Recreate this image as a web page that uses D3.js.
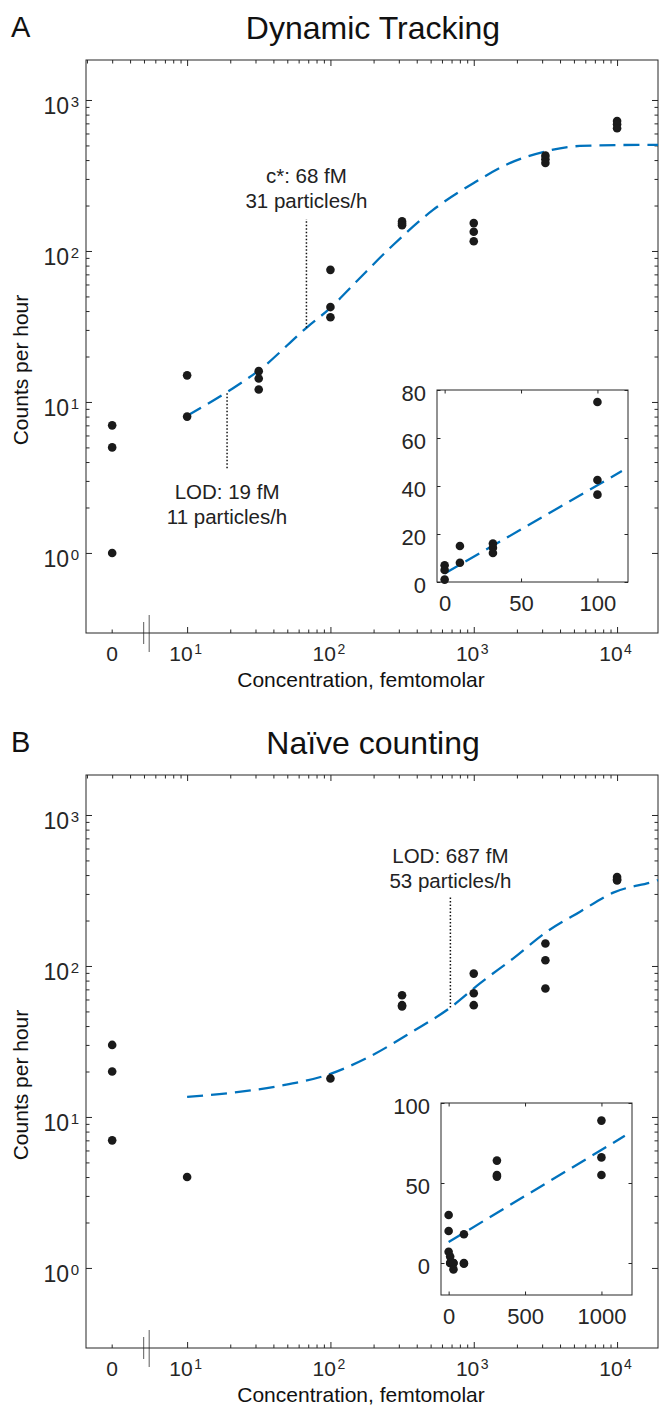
<!DOCTYPE html>
<html>
<head>
<meta charset="utf-8">
<script src="https://cdn.jsdelivr.net/npm/d3@7"></script>
<style>
  body { margin: 0; background: #fff; }
  svg { display: block; font-family: "Liberation Sans", Arial, Helvetica, sans-serif; }
</style>
</head>
<body>
<script>

// ---- panel A: dynamic tracking ----
const concA   = [0,0,0, 10,10, 31.6,31.6,31.6, 100,100,100, 316,316,316, 1000,1000,1000, 3162,3162,3162, 10000,10000,10000];
const countsA = [7,5,1, 15,8, 16,14.3,12.1, 75,42.5,36.4, 157,152,148, 153,134,116, 428,405,383, 725,690,650];
const fitConcA   = [10, 20, 32, 68, 100, 150, 275, 520, 1000, 1800, 3250, 5500, 10500, 19300];
const fitCountsA = [8.1, 12, 16.3, 31, 42, 62, 110, 187, 282, 383, 459, 496, 503, 504];
const insetFitConcA   = [0, 116];
const insetFitCountsA = [3.5, 46.2];

// ---- panel B: naive counting ----
const concB   = [0,0,0, 10,10,10, 31.6,31.6,31.6, 100,100,100, 316,316,316, 1000,1000,1000, 3162,3162,3162, 10000,10000,10000];
const countsB = [30,20,7, 4,0,0, 0,0,-4, 18,0,-0.5, 64,55,54, 89,66,55, 141,109,71, 388,375,368];
const fitConcB   = [10, 21, 45, 100, 180, 378, 687, 1110, 1880, 3250, 5520, 9400, 17900, 19300];
const fitCountsB = [13.6, 14.5, 16.1, 19.3, 24.6, 37, 53, 77, 112, 169, 229, 306, 362, 370];
const insetFitConcB   = [0, 1153];
const insetFitCountsB = [13.1, 79.5];

// tick values
const xMajors = [10, 100, 1000, 10000];
const yMajors = [1, 10, 100, 1000];
const insetTicksA = { x: [0, 50, 100], y: [0, 20, 40, 60, 80] };
const insetTicksB = { x: [0, 500, 1000], y: [0, 50, 100] };

const INK = '#262626';
const BLUE = '#0072BD';
const DASH = '16,8';

var svg = d3.select('body').append('svg')
    .attr('width', 660)
    .attr('height', 1415);

function minorsBetween(lo, hi)
{
    let out = [];
    for (let p = 0; p <= 4; p++) {
        for (let m = 2; m <= 9; m++) {
            let v = m * Math.pow(10, p);
            if (v >= lo && v <= hi) out.push(v);
        }
    }
    return out;
}

function supLabel(sel, d, supSize)
{
    sel.text(null);
    sel.append('tspan').text('10');
    sel.append('tspan')
        .attr('font-size', supSize)
        .attr('dx', 1.5)
        .attr('dy', '-0.5em')
        .text(Math.round(Math.log10(d)));
}

function drawPanel(top, cfg)
{
    let g = svg.append('g');

    const x = d3.scaleLog().domain([1.97, 19300]).range([86, 658]);
    const y = d3.scaleLog().domain([0.295, 1840]).range([top + 633, top + 60]);
    const zeroAt = 3;   // where the "0" column sits on the log axis
    const px = c => c === 0 ? x(zeroAt) : x(c);

    // letter + title
    g.append('text').attr('x', 11).attr('y', top + 37)
        .attr('font-size', 29).attr('fill', '#111').text(cfg.letter);
    g.append('text').attr('x', 373).attr('y', top + 39)
        .attr('text-anchor', 'middle').attr('font-size', 32).attr('fill', '#111')
        .text(cfg.title);

    // left axis
    let left = g.append('g').attr('transform', 'translate(86,0)');
    left.call(d3.axisLeft(y).tickValues(minorsBetween(0.295, 1840)).tickSize(-3.5).tickSizeOuter(0).tickFormat(''));
    left.append('g').call(d3.axisLeft(y).tickValues(yMajors).tickSize(-6).tickSizeOuter(0).tickPadding(7));
    left.selectAll('.tick text')
        .attr('font-size', 23).attr('fill', INK).attr('dy', '0.6em')
        .each(function(d) { if (yMajors.includes(d)) supLabel(d3.select(this), d, 15); });

    // right axis (mirror ticks)
    let right = g.append('g').attr('transform', 'translate(658,0)');
    right.call(d3.axisRight(y).tickValues(minorsBetween(0.295, 1840)).tickSize(-3.5).tickSizeOuter(0).tickFormat(''));
    right.append('g').call(d3.axisRight(y).tickValues(yMajors).tickSize(-6).tickSizeOuter(0).tickFormat(''));

    // top axis - plain log ticks all the way
    let topAx = g.append('g').attr('transform', 'translate(0,' + (top + 60) + ')');
    topAx.call(d3.axisTop(x).tickValues(minorsBetween(2, 19300)).tickSize(-3.5).tickSizeOuter(0).tickFormat(''));
    topAx.append('g').call(d3.axisTop(x).tickValues(xMajors).tickSize(-6).tickSizeOuter(0).tickFormat(''));

    // bottom axis - broken: "0" then log part from 10 up
    let bot = g.append('g').attr('transform', 'translate(0,' + (top + 633) + ')');
    bot.call(d3.axisBottom(x).tickValues(minorsBetween(20, 19300)).tickSize(-3.5).tickSizeOuter(0).tickFormat(''));
    bot.append('g').call(d3.axisBottom(x).tickValues(xMajors).tickSize(-6).tickSizeOuter(0).tickPadding(13));
    bot.selectAll('.tick text')
        .attr('font-size', 21).attr('fill', INK).attr('dx', -2)
        .each(function(d) { if (xMajors.includes(d)) supLabel(d3.select(this), d, 14); });
    bot.append('line')
        .attr('x1', px(0)).attr('x2', px(0)).attr('y1', 0).attr('y2', -3.5)
        .attr('stroke', INK);
    bot.append('text')
        .attr('x', px(0)).attr('y', 28)
        .attr('text-anchor', 'middle').attr('font-size', 21).attr('fill', INK)
        .text('0');
    // break marks
    const brk = x(5.2);
    bot.append('line').attr('x1', brk - 2.8).attr('x2', brk - 2.8).attr('y1', -11).attr('y2', 11)
        .attr('stroke', '#777').attr('stroke-width', 1.2);
    bot.append('line').attr('x1', brk + 2.8).attr('x2', brk + 2.8).attr('y1', -18).attr('y2', 19)
        .attr('stroke', '#777').attr('stroke-width', 1.2);

    g.selectAll('.domain').remove();
    g.selectAll('.tick line').attr('stroke', INK);

    // frame
    g.append('rect')
        .attr('x', 86).attr('y', top + 60).attr('width', 572).attr('height', 573)
        .attr('fill', 'none').attr('stroke', INK).attr('stroke-width', 1);

    // axis labels
    g.append('text')
        .attr('transform', 'translate(28,' + (top + 370) + ') rotate(-90)')
        .attr('text-anchor', 'middle').attr('font-size', 21).attr('fill', '#111')
        .text('Counts per hour');
    g.append('text')
        .attr('x', 361).attr('y', top + 687)
        .attr('text-anchor', 'middle').attr('font-size', 21).attr('fill', '#111')
        .text('Concentration, femtomolar');

    // fit curve
    let fit = cfg.fitConc.map((c, i) => [c, cfg.fitCounts[i]]);
    g.append('path')
        .datum(fit)
        .attr('d', d3.line().x(d => x(d[0])).y(d => y(d[1])).curve(d3.curveMonotoneX))
        .attr('fill', 'none').attr('stroke', BLUE).attr('stroke-width', 2.3)
        .attr('stroke-dasharray', DASH);

    // points (only positive ones fit on log scale)
    let pts = cfg.conc.map((c, i) => [c, cfg.counts[i]]).filter(d => d[1] > 0);
    g.selectAll('circle.pt').data(pts).join('circle')
        .attr('class', 'pt')
        .attr('cx', d => px(d[0])).attr('cy', d => y(d[1]))
        .attr('r', 4.3).attr('fill', '#1a1a1a');

    // annotations
    cfg.notes.forEach(n => {
        g.append('line')
            .attr('x1', x(n.c)).attr('x2', x(n.c))
            .attr('y1', y(n.v)).attr('y2', top + n.lineEnd)
            .attr('stroke', '#111').attr('stroke-width', 1.5)
            .attr('stroke-dasharray', '1.5,2');
        let t = g.append('text').attr('text-anchor', 'middle').attr('font-size', 20.5).attr('fill', '#222');
        t.append('tspan').attr('x', x(n.c)).attr('y', top + n.textY).text(n.line1);
        t.append('tspan').attr('x', x(n.c)).attr('y', top + n.textY + 25).text(n.line2);
    });

    drawInset(g, top, cfg.inset);
}

function drawInset(g, top, ins)
{
    const x = d3.scaleLinear().domain(ins.xDom).range([ins.x0, ins.x0 + 191]);
    const y = d3.scaleLinear().domain(ins.yDom).range([top + ins.y0 + 192, top + ins.y0]);
    let ig = g.append('g');

    ig.append('rect')
        .attr('x', ins.x0).attr('y', top + ins.y0).attr('width', 191).attr('height', 192)
        .attr('fill', '#fff');

    let l = ig.append('g').attr('transform', 'translate(' + ins.x0 + ',0)')
        .call(d3.axisLeft(y).tickValues(ins.ticks.y).tickSize(-3.5).tickSizeOuter(0).tickPadding(11).tickFormat(d3.format('d')));
    l.selectAll('text').attr('font-size', 22).attr('fill', INK).attr('dy', '0.48em');
    ig.append('g').attr('transform', 'translate(' + (ins.x0 + 191) + ',0)')
        .call(d3.axisRight(y).tickValues(ins.ticks.y).tickSize(-3.5).tickSizeOuter(0).tickFormat(''));
    let b = ig.append('g').attr('transform', 'translate(0,' + (top + ins.y0 + 192) + ')')
        .call(d3.axisBottom(x).tickValues(ins.ticks.x).tickSize(-3.5).tickSizeOuter(0).tickPadding(13).tickFormat(d3.format('d')));
    b.selectAll('text').attr('font-size', 22).attr('fill', INK);
    ig.append('g').attr('transform', 'translate(0,' + (top + ins.y0) + ')')
        .call(d3.axisTop(x).tickValues(ins.ticks.x).tickSize(-3.5).tickSizeOuter(0).tickFormat(''));
    ig.selectAll('.domain').remove();
    ig.selectAll('.tick line').attr('stroke', INK);

    ig.append('rect')
        .attr('x', ins.x0).attr('y', top + ins.y0).attr('width', 191).attr('height', 192)
        .attr('fill', 'none').attr('stroke', INK).attr('stroke-width', 1);

    let line = ins.fitConc.map((c, i) => [c, ins.fitCounts[i]]);
    ig.append('path')
        .datum(line)
        .attr('d', d3.line().x(d => x(d[0])).y(d => y(d[1])))
        .attr('fill', 'none').attr('stroke', BLUE).attr('stroke-width', 2.3)
        .attr('stroke-dasharray', DASH);

    let pts = ins.conc.map((c, i) => [c, ins.counts[i]]).filter(d => d[0] <= ins.xDom[1]);
    ig.selectAll('circle.ipt').data(pts).join('circle')
        .attr('class', 'ipt')
        .attr('cx', d => x(d[0])).attr('cy', d => y(d[1]))
        .attr('r', 4.3).attr('fill', '#1a1a1a');
}

drawPanel(0, {
    letter: 'A',
    title: 'Dynamic Tracking',
    conc: concA, counts: countsA,
    fitConc: fitConcA, fitCounts: fitCountsA,
    notes: [
        { c: 68, v: 31, lineEnd: 219, textY: 183, line1: 'c*: 68 fM', line2: '31 particles/h' },
        { c: 19, v: 11.4, lineEnd: 469, textY: 499, line1: 'LOD: 19 fM', line2: '11 particles/h' }
    ],
    inset: {
        x0: 437, y0: 390, xDom: [-5, 120], yDom: [0, 80], ticks: insetTicksA,
        conc: concA, counts: countsA,
        fitConc: insetFitConcA, fitCounts: insetFitCountsA
    }
});

drawPanel(715, {
    letter: 'B',
    title: 'Naïve counting',
    conc: concB, counts: countsB,
    fitConc: fitConcB, fitCounts: fitCountsB,
    notes: [
        { c: 687, v: 53, lineEnd: 182, textY: 148, line1: 'LOD: 687 fM', line2: '53 particles/h' }
    ],
    inset: {
        x0: 441, y0: 388, xDom: [-50, 1200], yDom: [-20, 100], ticks: insetTicksB,
        conc: concB, counts: countsB,
        fitConc: insetFitConcB, fitCounts: insetFitCountsB
    }
});

</script>
</body>
</html>
